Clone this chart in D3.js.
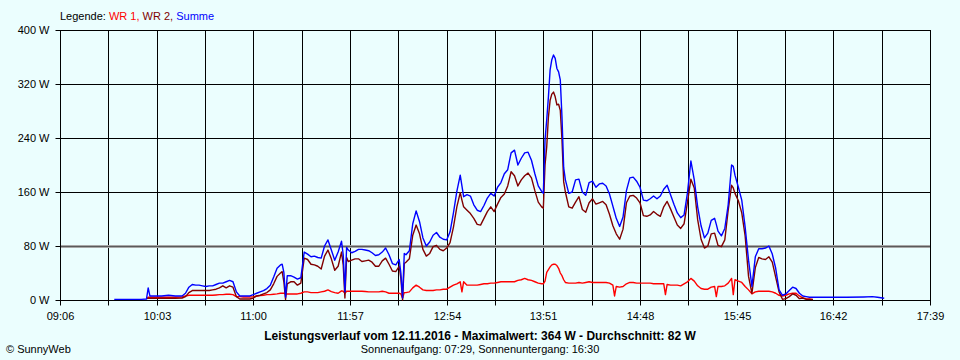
<!DOCTYPE html>
<html><head><meta charset="utf-8">
<script src="https://cdn.jsdelivr.net/npm/d3@7"></script>
<style>
body{margin:0;background:#ebfefe;}
svg{display:block;font-family:"Liberation Sans",Arial,sans-serif;}
</style></head><body>
<svg id="c" width="960" height="360"></svg>
<script>
const times=["09:38","09:42","09:46","09:50","09:54","09:57","09:58","09:59","10:02","10:06","10:10","10:14","10:18","10:20","10:22","10:24","10:26","10:28","10:30","10:32","10:34","10:36","10:38","10:40","10:42","10:44","10:46","10:48","10:50","10:52","10:54","10:56","10:58","11:00","11:02","11:04","11:06","11:08","11:10","11:12","11:14","11:16","11:17","11:18","11:19","11:20","11:22","11:24","11:26","11:28","11:30","11:32","11:34","11:36","11:38","11:40","11:42","11:44","11:46","11:48","11:50","11:52","11:53","11:54","11:55","11:56","11:58","12:00","12:02","12:04","12:06","12:08","12:10","12:12","12:14","12:16","12:18","12:20","12:22","12:24","12:26","12:27","12:28","12:29","12:30","12:32","12:34","12:36","12:38","12:40","12:42","12:44","12:46","12:48","12:50","12:52","12:54","12:56","12:58","13:00","13:02","13:03","13:04","13:06","13:08","13:10","13:12","13:14","13:16","13:18","13:20","13:22","13:24","13:26","13:28","13:30","13:32","13:34","13:36","13:38","13:40","13:42","13:44","13:46","13:48","13:50","13:51","13:52","13:53","13:54","13:55","13:56","13:57","13:58","13:59","14:00","14:01","14:02","14:03","14:04","14:06","14:08","14:10","14:12","14:14","14:16","14:18","14:20","14:22","14:24","14:26","14:28","14:30","14:32","14:33","14:34","14:36","14:38","14:40","14:42","14:44","14:46","14:48","14:50","14:52","14:54","14:56","14:58","15:00","15:02","15:03","15:04","15:06","15:08","15:10","15:12","15:14","15:16","15:18","15:20","15:22","15:24","15:26","15:28","15:30","15:32","15:33","15:34","15:36","15:38","15:40","15:42","15:43","15:44","15:46","15:48","15:50","15:52","15:54","15:56","15:58","16:00","16:02","16:04","16:06","16:08","16:10","16:12","16:14","16:16","16:18","16:20","16:22","16:24","16:26","16:28","16:30","16:40","16:50","17:00","17:05","17:08","17:12"];
const summe=[1,1,1,1,1,1.5,18,6,6,6,7,6,6,10,19,23,22,22,21,20,21,21,23,25,25,27,29,27,12,6,6,6,6,8,10,12,14,17,22,34,47,52,53,41,4,36,36,34,31,33,71,68,64,65,63,62,80,89,74,59,71,87,67,12,78,74,70,72,75,75,74,73,70,66,67,71,77,67,54,52,60,40,3,69,67,73,113,132,116,92,80,86,96,100,93,90,89,101,129,161,185,169,153,156,154,141,133,131,140,151,158,154,167,174,187,193,218,222,200,210,218,219,207,187,169,161,158,237,267,301,341,356,363,358,343,338,326,271,196,178,158,160,178,179,160,155,174,176,167,172,173,169,157,139,130,121,109,123,162,181,182,176,167,148,147,150,154,150,154,164,167,170,156,142,129,122,126,159,206,178,138,110,92,99,118,121,112,102,95,106,141,200,198,185,167,148,108,59,20,64,76,76,77,80,68,47,15,7,9,14,19,17,10,6,5,4,4,4,4,4.5,5,4,2.5];
const wr2=[null,null,null,null,null,2,2.5,2.5,2.5,2.5,2.5,2.5,3,5,11,14,14,14,14,14,14,15,16,18,21,18,21,19,5,1.5,1.5,1.5,1.5,3,6,7,9,11,15,24,35,40,42,27,1,24,27,27,22,25,62,60,53,52,50,46,65,74,61,44,50,71,52,3,63,57,59,61,61,57,58,59,56,50,50,58,62,53,43,42,50,32,0,54,56,61,96,111,98,75,65,69,79,81,75,73,77,85,108,138,159,148,138,133,128,121,112,111,121,131,138,131,142,152,157,169,190,184,169,178,184,188,181,162,145,138,136,200,227,271,296,305,308,301,289,290,281,237,175,160,138,136,145,153,134,130,144,150,142,144,146,141,127,110,104,98,90,105,144,154,155,151,144,125,124,126,131,127,124,138,142,146,135,123,111,106,113,145,179,166,119,90,77,80,98,99,90,81,79,89,133,170,166,158,147,129,95,35,10,48,63,61,60,64,56,34,12,1,2,5,9,7,2,3,1,1,0.5,null,null,null,null,null,null];
const wr1=[null,null,null,null,null,3,4,4,4,4,4,4,4.5,6,7,7,7,7,7,7,7,7,7.5,8,8,8.5,8.5,8,5,5,4.5,4.5,4.5,5,6,6.5,7,8,8,8.5,9,10,10,10,9,9,9,9,9,10,12,12,11,11,11,12,13,15,12.5,11,10,13.6,13,10,13,13,13,13,13,13,12.5,12,12,12,12,13,12,10,10,10,10,9,3,11,11,12,18,22,19,15,14,14,14,15,15,16,16,19,22,24,27,12,27,22,22,22,22,23,24,24,25,25,26,27,27,27,27,27,29,30,32,30,29,27,25,24,24,28,41,45,49,52,53,53,51,47,40,36,30,26,25,25,25,26,25,26,27,26,26,26,26,26,25,22,6,20,19,20,24,26,26,25,25,25,25,25,24,24,24,24,8,23,22,22,22,21,24,27,32,28,21,17,16,16,19,20,5,20,20,21,25,32,8,30,28,26,20,15,9,12,13,13,13,13,12,10,7,6,7,9,10,10,6,3,2,1.5,1,null,null,null,null,null,null];
const xTickLabels=["09:06","10:03","11:00","11:57","12:54","13:51","14:48","15:45","16:42","17:39"];
const yTickValues=[0,80,160,240,320,400];
const seriesNames=["WR 1","WR 2","Summe"];
const seriesColors=["#ff0000","#800000","#0000ff"];

const toMin=s=>{const [h,m]=s.split(":").map(Number);return h*60+m;};
const tStart=toMin(xTickLabels[0]), tEnd=toMin(xTickLabels[xTickLabels.length-1]);
const svg=d3.select("#c");
const x=d3.scaleLinear().domain([tStart,tEnd]).range([60,930]);
const y=d3.scaleLinear().domain([0,400]).range([300,30]);
const step=(tEnd-tStart)/18;
const gridTimes=d3.range(19).map(i=>tStart+i*step);

const g=svg.append("g");
// vertical grid
g.selectAll(".vg").data(gridTimes).join("line")
 .attr("x1",d=>Math.round(x(d))+0.5).attr("x2",d=>Math.round(x(d))+0.5)
 .attr("y1",y(400)).attr("y2",y(0)).attr("stroke","#000").attr("stroke-width",1);
// horizontal grid
yTickValues.forEach(v=>{
  const yy=Math.round(y(v))+0.5;
  if(v===80){
    g.append("line").attr("x1",61).attr("x2",930).attr("y1",yy).attr("y2",yy).attr("stroke","#a8a8a8").attr("stroke-width",3);
    g.append("line").attr("x1",61).attr("x2",930).attr("y1",yy).attr("y2",yy).attr("stroke","#5a5a5a").attr("stroke-width",1);
  } else {
    g.append("line").attr("x1",60).attr("x2",931).attr("y1",yy).attr("y2",yy).attr("stroke","#000").attr("stroke-width",1);
  }
});

// axes
const ya=svg.append("g").attr("transform","translate(60.5,0.5)")
 .call(d3.axisLeft(y).tickValues(yTickValues).tickFormat(d=>d+" W").tickSize(5).tickPadding(6));
const xa=svg.append("g").attr("transform","translate(0.5,300.5)")
 .call(d3.axisBottom(x).tickValues(gridTimes).tickSize(5).tickPadding(7)
   .tickFormat((d,i)=>i%2===0?xTickLabels[i/2]:""));
[ya,xa].forEach(a=>{a.select(".domain").remove();
  a.selectAll("line").attr("stroke","#000");
  a.selectAll("text").attr("fill","#000").style("font-size","11px").style("font-family","'Liberation Sans',Arial,sans-serif");});
ya.selectAll(".tick").attr("transform",d=>`translate(0,${Math.round(y(d))})`);
xa.selectAll(".tick").attr("transform",d=>`translate(${Math.round(x(d))},0)`);

// lines
const data=[wr1,wr2,summe];
const line=d3.line().defined(d=>d[1]!==null).x(d=>x(toMin(d[0]))).y(d=>y(d[1]));
data.forEach((vals,i)=>{
  svg.append("path").datum(times.map((t,j)=>[t,vals[j]]))
    .attr("d",line).attr("fill","none").attr("stroke",seriesColors[i])
    .attr("stroke-width",1.4).attr("stroke-linejoin","round");
});

// legend
const lg=svg.append("text").attr("x",60).attr("y",20).style("font-size","11px");
lg.append("tspan").attr("fill","#000").text("Legende: ");
seriesNames.forEach((n,i)=>{
  lg.append("tspan").attr("fill",seriesColors[i]).text(n+(i<seriesNames.length-1?", ":""));
});

// titles
svg.append("text").attr("x",480).attr("y",340).attr("text-anchor","middle")
 .style("font-size","12px").style("font-weight","bold").attr("fill","#000")
 .text("Leistungsverlauf vom 12.11.2016 - Maximalwert: 364 W - Durchschnitt: 82 W");
svg.append("text").attr("x",480).attr("y",353).attr("text-anchor","middle")
 .style("font-size","11px").attr("fill","#000")
 .text("Sonnenaufgang: 07:29, Sonnenuntergang: 16:30");
svg.append("text").attr("x",6).attr("y",353)
 .style("font-size","11px").attr("fill","#000").text("© SunnyWeb");
</script></body></html>
